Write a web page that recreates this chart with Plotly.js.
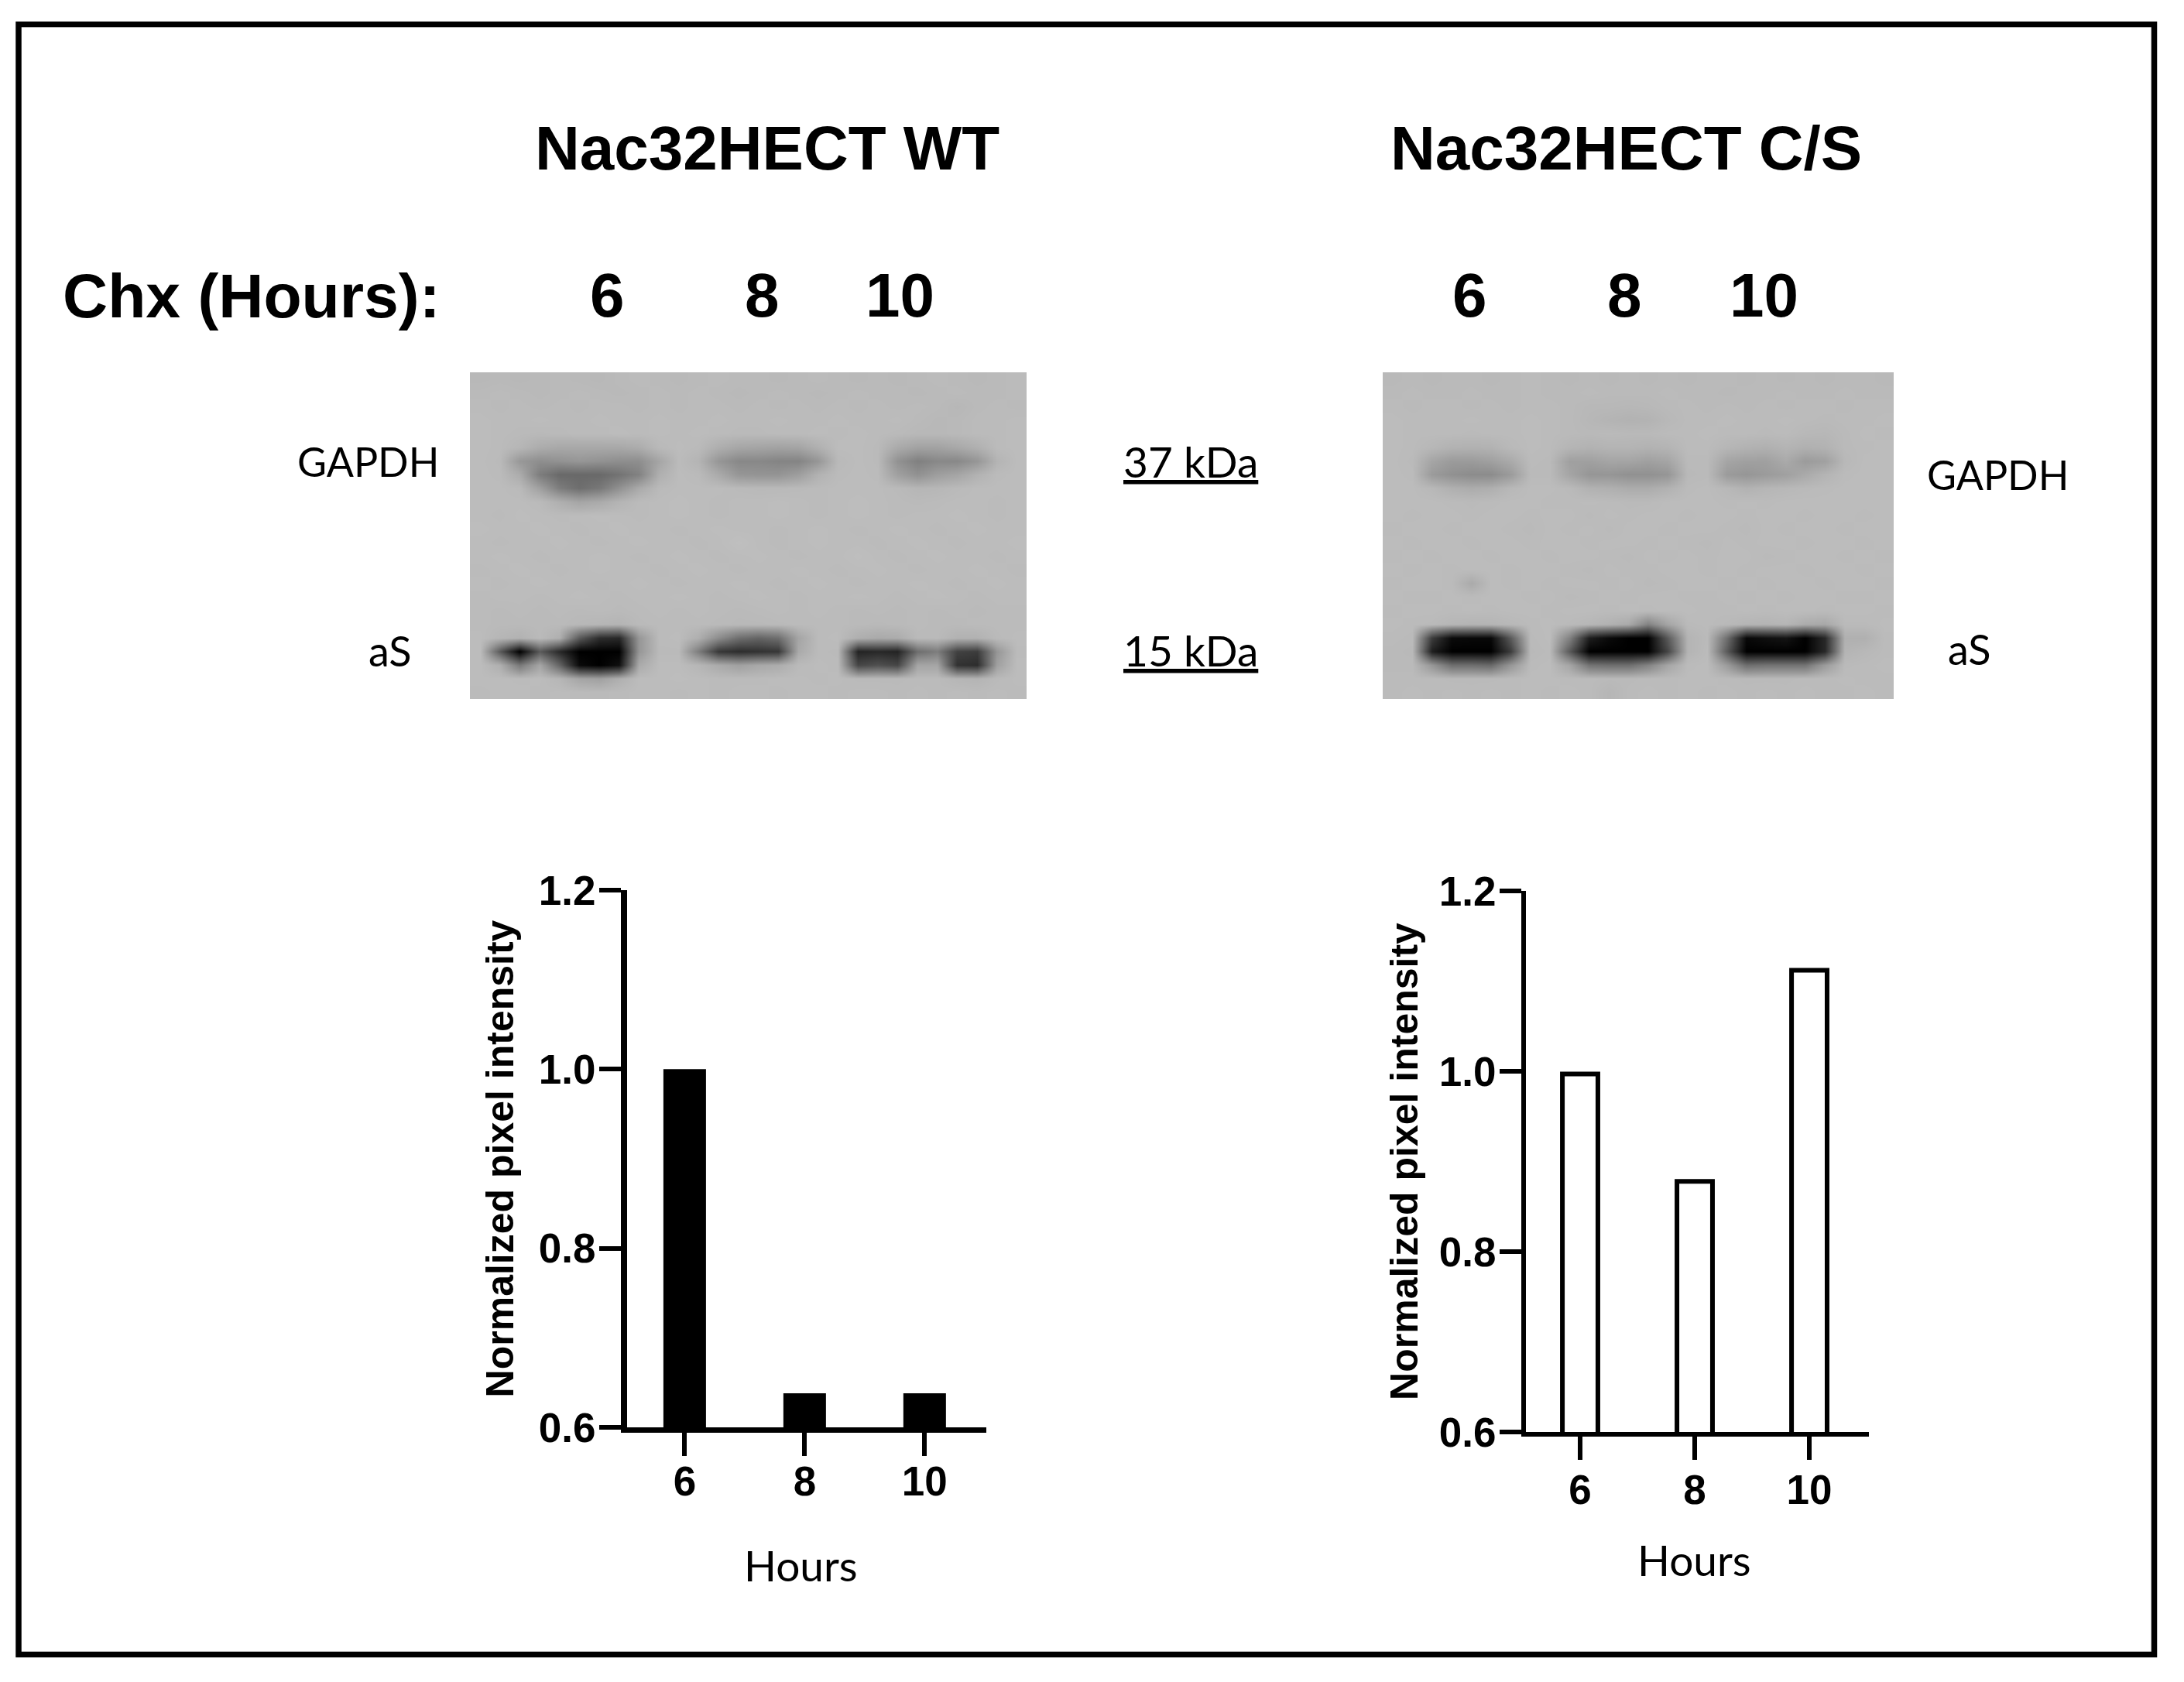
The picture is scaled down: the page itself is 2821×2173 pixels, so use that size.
<!DOCTYPE html>
<html>
<head>
<meta charset="utf-8">
<script src="https://cdn.plot.ly/plotly-3.0.1.min.js"></script>
<style>body{margin:0;background:#fff}</style>
</head>
<body>
<div id="chart"></div>
<script>
var W = 2821, H = 2173;

// bar values
var hours = ['6', '8', '10'];
var wtValues = [1.0, 0.638, 0.638];
var csValues = [0.997, 0.878, 1.112];
var yTicks = [0.6, 0.8, 1.0, 1.2];

// blot intensities (0 black, 255 white)
var blotWT = [
[184,185,184,185,186,185,184,186,187,186,185,186,187,186,186,185,186,187,186,185,186,185,186,187,186,185,186,187],
[186,187,186,185,186,187,186,185,186,187,186,187,186,185,186,187,186,185,186,187,186,186,185,186,187,186,186,187],
[187,186,187,186,187,186,187,187,186,187,186,187,187,186,187,186,187,186,187,186,187,186,187,186,183,186,187,186],
[188,187,187,188,187,187,188,187,187,188,187,187,188,187,187,188,187,187,188,187,187,188,186,184,185,187,187,188],
[188,187,186,185,186,187,187,188,187,188,187,188,187,186,186,187,187,188,187,188,187,186,184,184,185,187,187,188],
[188,187,182,172,168,168,168,168,172,185,188,186,174,166,164,162,164,176,188,188,186,170,162,162,168,176,187,188],
[188,186,152,142,146,150,146,142,142,165,187,180,150,136,136,132,132,150,185,188,186,146,128,136,136,150,180,188],
[188,187,172,125,105,105,105,115,130,175,188,186,170,150,148,148,158,178,187,188,187,160,145,158,165,178,187,188],
[188,188,186,160,125,110,120,145,170,186,188,188,188,186,185,185,186,187,188,188,188,186,182,183,186,188,188,188],
[188,188,188,186,175,165,170,180,187,188,189,188,187,188,188,189,188,187,188,189,188,187,186,187,188,188,187,188],
[188,187,189,188,187,188,189,188,187,188,189,188,187,188,188,189,188,187,188,189,188,187,188,188,189,188,187,188],
[189,188,188,189,188,187,188,189,188,188,187,188,189,188,188,187,188,189,188,187,188,189,188,187,188,189,188,188],
[188,187,188,188,189,188,187,188,189,188,188,187,188,191,188,187,188,189,188,188,187,188,189,188,187,188,188,189],
[188,189,188,187,188,188,189,188,187,188,189,188,187,188,189,188,187,188,188,190,188,187,188,189,188,188,187,188],
[187,188,189,188,187,188,189,188,188,187,188,189,188,187,188,188,189,188,187,188,189,188,187,188,188,189,188,187],
[188,187,188,189,188,188,187,188,189,188,187,188,188,189,188,187,188,189,188,187,188,188,189,188,187,188,189,188],
[187,188,188,187,188,189,188,187,188,188,189,188,187,188,189,188,187,188,188,189,188,187,188,189,188,187,188,188],
[187,186,187,186,187,186,187,186,187,188,187,188,187,186,187,188,187,188,187,186,187,186,187,186,187,186,187,187],
[187,186,186,186,186,184,182,180,186,187,187,187,186,185,185,186,187,187,187,186,185,186,187,186,186,187,187,187],
[188,182,178,186,175,90,45,40,150,187,188,175,140,110,100,110,165,187,188,175,170,172,186,186,178,178,186,188],
[188,90,0,90,40,0,0,0,150,186,186,125,55,45,50,55,170,187,186,35,40,35,110,125,65,60,150,187],
[188,175,120,165,100,10,0,15,170,188,188,182,170,160,168,172,186,188,187,70,80,70,165,165,50,45,160,188],
[188,188,187,188,182,165,160,175,188,188,189,188,187,187,187,188,188,187,188,186,186,186,187,187,182,180,186,188],
[187,188,188,187,188,187,186,187,188,188,187,188,187,188,188,187,188,188,187,188,188,187,188,187,188,187,188,187]
];

var blotCS = [
[185,186,185,186,186,185,186,187,186,185,186,185,186,185,186,185,186,186,185,186,185,186,185,186,186,185],
[186,187,186,186,187,186,186,187,186,186,187,186,186,186,187,186,186,185,186,186,187,186,186,187,186,186],
[187,186,187,187,186,187,186,187,187,186,184,184,183,184,186,187,186,187,186,187,186,187,187,186,187,187],
[188,187,187,187,188,187,187,188,187,186,183,180,178,179,184,187,187,188,187,187,188,187,186,187,187,188],
[188,187,187,187,186,187,187,188,187,186,185,186,185,185,187,187,188,187,187,186,187,184,183,186,188,187],
[188,187,183,178,177,178,185,188,187,181,178,180,180,178,180,187,187,182,178,176,180,176,178,186,187,188],
[188,186,165,155,155,160,170,187,186,160,160,165,165,160,165,186,186,165,160,160,170,155,160,184,188,188],
[188,187,155,145,140,140,155,186,186,165,150,150,145,145,150,185,186,155,150,155,160,170,180,187,188,188],
[188,188,184,176,172,175,184,188,188,186,178,176,172,172,178,187,188,184,178,182,184,186,187,188,188,188],
[188,188,188,187,186,187,188,188,187,187,188,187,186,186,188,188,188,187,188,187,188,188,188,188,188,188],
[188,187,188,188,187,188,188,187,188,188,186,188,187,188,188,187,188,188,187,188,188,187,188,188,187,188],
[187,188,188,187,188,188,187,186,188,187,188,186,188,188,187,188,188,187,186,188,187,188,188,187,188,188],
[188,187,188,188,187,188,188,187,188,188,187,188,188,187,188,187,186,188,187,188,188,187,188,188,187,188],
[187,188,187,188,188,187,188,188,187,188,188,187,186,188,187,188,187,188,188,186,187,188,188,187,188,187],
[188,187,188,187,188,188,187,188,188,187,186,188,187,187,188,188,187,188,187,188,188,187,188,188,187,188],
[187,188,188,187,170,188,187,188,187,188,188,187,188,186,187,188,188,187,188,187,188,188,187,188,188,187],
[188,187,187,188,187,188,188,187,188,186,187,188,187,188,188,187,187,188,187,188,187,188,188,187,187,188],
[187,188,188,187,188,187,188,188,187,188,188,187,188,187,188,188,187,187,188,187,188,188,187,188,188,187],
[188,187,186,182,180,181,184,187,188,186,183,178,170,130,165,186,187,185,181,180,182,172,168,186,186,188],
[187,186,60,10,8,8,90,186,188,130,30,10,0,0,90,180,186,110,8,15,20,0,40,176,176,187],
[186,185,30,0,0,0,60,185,187,90,0,0,0,0,70,180,187,90,0,0,0,0,40,180,184,187],
[186,186,150,110,110,105,150,187,188,165,115,110,110,130,165,187,188,155,110,115,115,115,155,186,187,188],
[187,187,187,186,186,186,187,188,188,187,187,186,186,187,187,188,188,187,186,186,186,187,187,188,187,187],
[187,188,187,188,187,188,187,188,187,188,187,182,187,188,187,188,187,188,187,188,187,188,187,187,188,187]
];

var bold = 'Liberation Sans';
var soft = 'Lato';
var ink = '#000';

function px(x) { return x / W; }
function py(y) { return 1 - y / H; }

// heavy bold labels and the softer pasted-in ones, given in pixels from top left
function label(text, x, y, size, isBold, extra) {
  var a = {
    text: isBold ? '<b>' + text + '</b>' : text,
    xref: 'paper', yref: 'paper',
    x: px(x), y: py(y),
    showarrow: false,
    xanchor: 'center', yanchor: 'middle',
    font: {family: isBold ? bold : soft, size: size, color: ink}
  };
  if (extra) a.font.lineposition = extra;
  return a;
}

var traces = [
  {type: 'heatmap', z: blotWT, xaxis: 'x3', yaxis: 'y3', zsmooth: 'best', zmin: 0, zmax: 255,
   colorscale: [[0, '#000'], [1, '#fff']], showscale: false, hoverinfo: 'skip'},
  {type: 'heatmap', z: blotCS, xaxis: 'x4', yaxis: 'y4', zsmooth: 'best', zmin: 0, zmax: 255,
   colorscale: [[0, '#000'], [1, '#fff']], showscale: false, hoverinfo: 'skip'},
  {type: 'bar', x: hours, y: wtValues, xaxis: 'x', yaxis: 'y', width: 0.355,
   marker: {color: '#000', line: {width: 0}}},
  {type: 'bar', x: hours, y: csValues, xaxis: 'x2', yaxis: 'y2', width: 0.31,
   marker: {color: '#fff', line: {color: '#000', width: 6}}}
];

function xAxis(domain, range, anchor, lineWidth, labelShift) {
  return {
    domain: domain, range: range, anchor: anchor, type: 'category',
    showline: true, linecolor: ink, linewidth: lineWidth,
    ticks: 'outside', ticklen: 30, tickwidth: 6, tickcolor: ink,
    ticklabelstandoff: labelShift,
    tickfont: {family: bold, size: 53, color: ink, weight: 'bold'},
    showgrid: false, zeroline: false
  };
}
function yAxis(domain, anchor, lineWidth, titleGap) {
  return {
    domain: domain, range: [0.6, 1.2], anchor: anchor,
    tickvals: yTicks, tickformat: '.1f',
    showline: true, linecolor: ink, linewidth: lineWidth,
    ticks: 'outside', ticklen: 28, tickwidth: 6, tickcolor: ink,
    ticklabelstandoff: -6,
    tickfont: {family: bold, size: 53, color: ink, weight: 'bold'},
    showgrid: false, zeroline: false,
    title: {text: '<b>Normalized pixel intensity</b>', font: {family: bold, size: 50, color: ink}, standoff: titleGap}
  };
}

var layout = {
  width: W, height: H,
  margin: {l: 0, r: 0, t: 0, b: 0},
  paper_bgcolor: '#fff', plot_bgcolor: 'rgba(0,0,0,0)',
  showlegend: false,
  xaxis: xAxis([px(810), px(1274)], [-0.48, 2.514], 'y', 7, -13),
  yaxis: yAxis([py(1844), py(1150)], 'x', 8, 19),
  xaxis2: xAxis([px(1971), px(2414)], [-0.473, 2.52], 'y2', 6, -7),
  yaxis2: yAxis([py(1850), py(1151)], 'x2', 6, 13),
  xaxis3: {domain: [px(607), px(1326)], range: [-0.5, 27.5], visible: false},
  yaxis3: {domain: [py(903), py(481)], range: [23.5, -0.5], visible: false},
  xaxis4: {domain: [px(1786), px(2446)], range: [-0.5, 25.5], visible: false},
  yaxis4: {domain: [py(903), py(481)], range: [23.5, -0.5], visible: false},
  shapes: [
    {type: 'rect', xref: 'paper', yref: 'paper', x0: px(24), x1: px(2782.5), y0: py(31.5), y1: py(2137.5),
     line: {color: ink, width: 7.5}, fillcolor: 'rgba(0,0,0,0)'}
  ],
  annotations: [
    label('Nac32HECT WT', 991, 192, 80, true),
    label('Nac32HECT C/S', 2100, 192, 80, true),
    label('Chx (Hours):', 324, 382, 80.5, true),
    label('6', 784, 382, 80, true),
    label('8', 984, 382, 80, true),
    label('10', 1162, 382, 80, true),
    label('6', 1898, 382, 80, true),
    label('8', 2098, 382, 80, true),
    label('10', 2278, 382, 80, true),
    label('GAPDH', 475, 596, 52, false),
    label('aS', 504, 840, 54, false),
    label('37 kDa', 1538, 596, 55, false, 'under'),
    label('15 kDa', 1538, 840, 55, false, 'under'),
    label('GAPDH', 2580, 613, 52, false),
    label('aS', 2544, 838, 54, false),
    label('Hours', 1034, 2022, 55, false),
    label('Hours', 2188, 2015, 55, false)
  ]
};

Plotly.newPlot('chart', traces, layout, {displayModeBar: false, staticPlot: true});
</script>
</body>
</html>
